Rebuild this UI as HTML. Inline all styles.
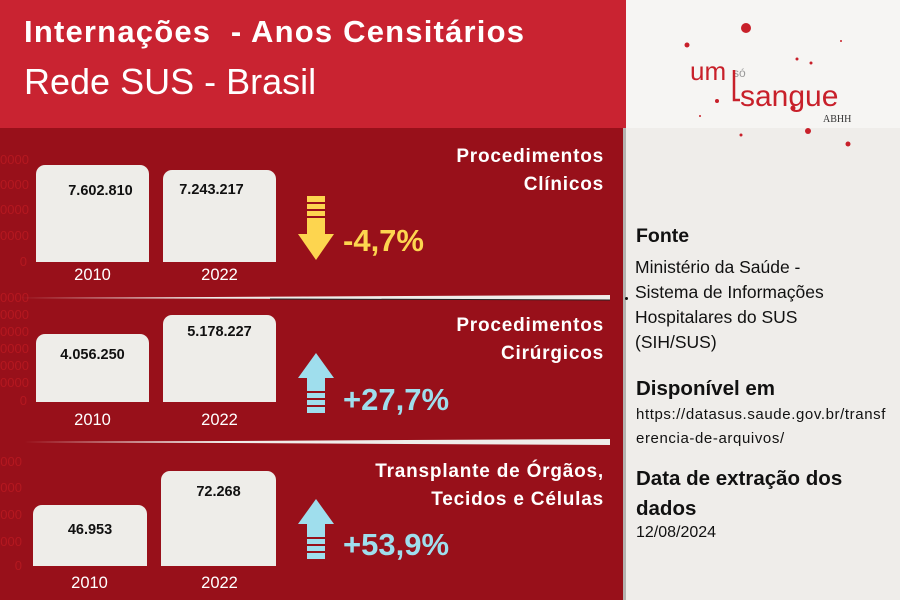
<!DOCTYPE html>
<html><head><meta charset="utf-8"><style>
*{margin:0;padding:0;box-sizing:border-box}
body{width:900px;height:600px;position:relative;overflow:hidden;background:#efedea;font-family:"Liberation Sans",sans-serif}
.a{position:absolute;white-space:nowrap}
.bar{position:absolute;background:#eeede9;border-radius:9px 9px 0 0}
.val{position:absolute;font-size:14.5px;font-weight:bold;color:#111;width:100%;text-align:center}
.yr{position:absolute;color:#fff;font-size:16.5px;width:113px;text-align:center}
.tick{position:absolute;color:#b51820;font-size:13px;left:0;text-align:right;width:27px}
.ttl{position:absolute;right:296px;color:#fff;font-weight:bold;font-size:19px;letter-spacing:0.8px;text-align:right;line-height:28px}
.pct{position:absolute;font-weight:bold;font-size:31px}
.r{position:absolute;left:636px;color:#111}
</style></head><body>
<div class="a" style="left:626px;top:0;width:274px;height:128px;background:#f6f5f3"></div>
<div class="a" style="left:0;top:0;width:626px;height:128px;background:#c92331"></div>
<div class="a" style="left:0;top:128px;width:623px;height:472px;background:#98101a"></div>
<div class="a" style="left:623px;top:128px;width:3px;height:472px;background:#b5b3b0"></div>
<div class="a" style="left:24px;top:14px;color:#fff;font-size:31px;font-weight:bold;letter-spacing:1.2px">Internações&nbsp; - Anos Censitários</div>
<div class="a" style="left:24px;top:61px;color:#fff;font-size:36px">Rede SUS - Brasil</div>

<!-- logo -->
<svg class="a" style="left:640px;top:10px" width="260" height="140">
<g fill="#c8202a"><circle cx="106" cy="18" r="5"/><circle cx="47" cy="35" r="2.5"/><circle cx="171" cy="53" r="1.5"/><circle cx="157" cy="49" r="1.5"/><circle cx="168" cy="121" r="3"/><circle cx="153" cy="98" r="2.5"/><circle cx="77" cy="91" r="2"/><circle cx="60" cy="106" r="1"/><circle cx="101" cy="125" r="1.5"/><circle cx="201" cy="31" r="1"/><circle cx="208" cy="134" r="2.5"/></g>
<text x="50" y="70" font-size="26" fill="#c8202a" font-family="Liberation Sans">um</text>
<text x="93" y="67" font-size="12" fill="#999" font-family="Liberation Sans">só</text>
<text x="100" y="96" font-size="30" fill="#c8202a" font-family="Liberation Sans">sangue</text>
<path d="M94 60 V90 H100" stroke="#c8202a" stroke-width="2.5" fill="none"/>
<text x="183" y="112" font-size="10" fill="#333" font-family="Liberation Serif">ABHH</text>
</svg>

<!-- ticks -->
<div class="tick" style="top:152px">0000</div><div class="tick" style="top:177px">0000</div><div class="tick" style="top:202px">0000</div><div class="tick" style="top:228px">0000</div><div class="tick" style="top:254px">0</div>
<div class="tick" style="top:290px">0000</div><div class="tick" style="top:307px">0000</div><div class="tick" style="top:324px">0000</div><div class="tick" style="top:341px">0000</div><div class="tick" style="top:358px">0000</div><div class="tick" style="top:375px">0000</div><div class="tick" style="top:393px">0</div>
<div class="tick" style="top:454px;width:22px">000</div><div class="tick" style="top:480px;width:22px">000</div><div class="tick" style="top:507px;width:22px">000</div><div class="tick" style="top:534px;width:22px">000</div><div class="tick" style="top:558px;width:22px">0</div>

<!-- chart 1 -->
<div class="bar" style="left:36px;top:165px;width:113px;height:97px"><div class="val" style="top:18px;left:8px">7.602.810</div></div>
<div class="bar" style="left:163px;top:170px;width:113px;height:92px"><div class="val" style="top:12px;left:-8px">7.243.217</div></div>
<div class="yr" style="left:36px;top:266px">2010</div><div class="yr" style="left:163px;top:266px">2022</div>
<div class="ttl" style="top:143px">Procedimentos<br>Clínicos</div>
<svg class="a" style="left:298px;top:196px" width="36" height="66"><g fill="#fdd54f"><rect x="9" y="0" width="18" height="6"/><rect x="9" y="8" width="18" height="5"/><rect x="9" y="15" width="18" height="5"/><rect x="9" y="22" width="18" height="16"/><polygon points="0,38 36,38 18,64"/></g></svg>
<div class="pct" style="left:343px;top:223px;color:#fdd54f">-4,7%</div>

<svg class="a" style="left:20px;top:292px" width="590" height="14"><polygon points="0,6 590,3 590,8" fill="#efedea"/><line x1="250" y1="7" x2="606" y2="8" stroke="#222" stroke-width="1"/></svg>
<div class="a" style="left:625px;top:297px;width:3px;height:3px;background:#111;border-radius:50%"></div>

<!-- chart 2 -->
<div class="bar" style="left:36px;top:334px;width:113px;height:68px"><div class="val" style="top:13px">4.056.250</div></div>
<div class="bar" style="left:163px;top:315px;width:113px;height:87px"><div class="val" style="top:9px">5.178.227</div></div>
<div class="yr" style="left:36px;top:411px">2010</div><div class="yr" style="left:163px;top:411px">2022</div>
<div class="ttl" style="top:312px">Procedimentos<br>Cirúrgicos</div>
<svg class="a" style="left:298px;top:353px" width="36" height="62"><g fill="#9fdeed"><polygon points="18,0 36,25 0,25"/><rect x="9" y="25" width="18" height="13"/><rect x="9" y="40" width="18" height="5"/><rect x="9" y="47" width="18" height="5"/><rect x="9" y="54" width="18" height="6"/></g></svg>
<div class="pct" style="left:343px;top:382px;color:#9fdeed">+27,7%</div>

<svg class="a" style="left:20px;top:436px" width="590" height="14"><polygon points="4,6 590,3 590,9" fill="#efedea"/></svg>

<!-- chart 3 -->
<div class="bar" style="left:33px;top:505px;width:114px;height:61px"><div class="val" style="top:17px">46.953</div></div>
<div class="bar" style="left:161px;top:471px;width:115px;height:95px"><div class="val" style="top:13px">72.268</div></div>
<div class="yr" style="left:33px;top:574px">2010</div><div class="yr" style="left:163px;top:574px">2022</div>
<div class="ttl" style="top:458px">Transplante de Órgãos,<br>Tecidos e Células</div>
<svg class="a" style="left:298px;top:499px" width="36" height="62"><g fill="#9fdeed"><polygon points="18,0 36,25 0,25"/><rect x="9" y="25" width="18" height="13"/><rect x="9" y="40" width="18" height="5"/><rect x="9" y="47" width="18" height="5"/><rect x="9" y="54" width="18" height="6"/></g></svg>
<div class="pct" style="left:343px;top:527px;color:#9fdeed">+53,9%</div>

<!-- right text -->
<div class="r" style="top:225px;font-size:19.5px;font-weight:bold">Fonte</div>
<div class="r" style="top:255px;font-size:17.5px;line-height:25px;left:635px">Ministério da Saúde -<br>Sistema de Informações<br>Hospitalares do SUS<br>(SIH/SUS)</div>
<div class="r" style="top:377px;font-size:20.5px;font-weight:bold">Disponível em</div>
<div class="r" style="top:403px;font-size:15px;letter-spacing:0.6px;line-height:24px">https://datasus.saude.gov.br/transf<br>erencia-de-arquivos/</div>
<div class="r" style="top:464px;font-size:20.5px;font-weight:bold;line-height:30px">Data de extração dos<br>dados</div>
<div class="r" style="top:524px;font-size:16px">12/08/2024</div>
</body></html>
